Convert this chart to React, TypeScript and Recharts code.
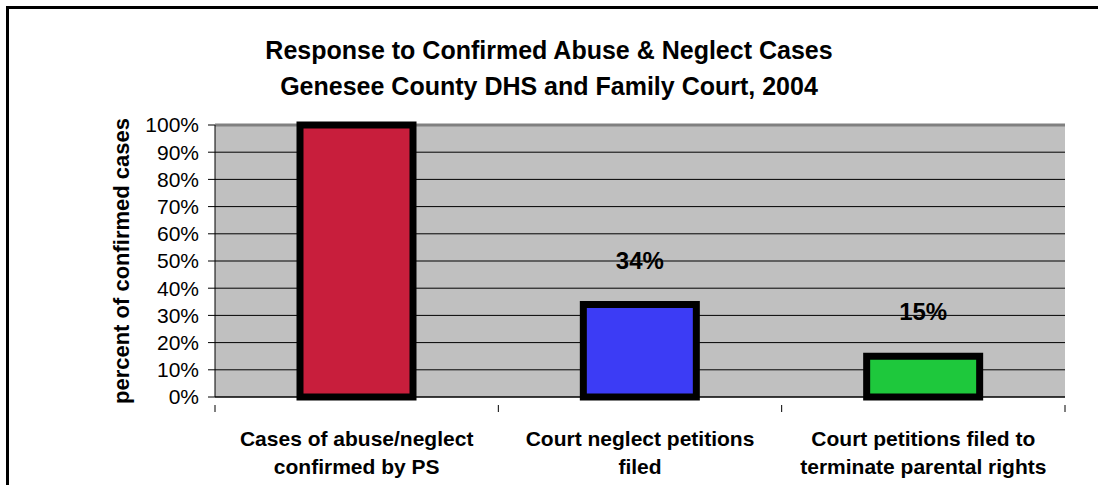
import { BarChart, Bar, XAxis, YAxis, CartesianGrid, Cell, LabelList } from "recharts";

const categoryLines = [
  ["Cases of abuse/neglect", "confirmed by PS"],
  ["Court neglect petitions", "filed"],
  ["Court petitions filed to", "terminate parental rights"],
];
const values = [100, 34, 15];
const barColors = ["#C81E3C", "#3C3CF5", "#1EC83C"];
const yTicks = [0, 10, 20, 30, 40, 50, 60, 70, 80, 90, 100];
const innerGrid = [0, 10, 20, 30, 40, 50, 60, 70, 80, 90];
const titleLines = ["Response to Confirmed Abuse & Neglect Cases", "Genesee County DHS and Family Court, 2004"];

const W = 1098;
const H = 485;
const margin = { top: 125, right: 33, bottom: 0, left: 0 };
const yAxisWidth = 215;
const plotWidth = W - margin.left - margin.right - yAxisWidth;
const band = plotWidth / values.length;
const font = "'Liberation Sans', Arial, sans-serif";

const rows = values.map((v, i) => ({ name: String(i), value: v }));

function CatTick(props: any) {
  const { x, y, payload, index } = props;
  const lines = categoryLines[Number(payload.value)];
  const half = band / 2;
  return (
    <g>
      <line x1={x - half} x2={x - half} y1={y} y2={y + 7} stroke="#000" />
      {index === values.length - 1 && (
        <line x1={x + half} x2={x + half} y1={y} y2={y + 7} stroke="#000" />
      )}
      {lines.map((l, i) => (
        <text key={i} x={x} y={y + 41 + i * 28} textAnchor="middle" fontFamily={font}
          fontWeight="bold" fontSize={21} fill="#000">{l}</text>
      ))}
    </g>
  );
}

function ValueLabel(props: any) {
  const { x, y, width, value } = props;
  if (value >= 100) return null; // the full bar's label is not shown in the original
  return (
    <text x={x + width / 2} y={y - 36} textAnchor="middle" fontFamily={font}
      fontWeight="bold" fontSize={24} fill="#000">{value}%</text>
  );
}

export default function App() {
  return (
    <div style={{ position: "absolute", left: 0, top: 0, width: W, height: H, overflow: "hidden", background: "#fff" }}>
      <div style={{ position: "absolute", left: 6, top: 6, width: W + 20, height: H + 20, border: "3px solid #000" }} />
      <div style={{ position: "absolute", left: 0, top: 32, width: W, textAlign: "center",
        fontFamily: font, fontWeight: "bold", fontSize: 25, lineHeight: "36px", color: "#000" }}>
        {titleLines.map((t) => <div key={t}>{t}</div>)}
      </div>
      <div style={{ position: "absolute", left: 0, top: 0 }}>
        <BarChart width={W} height={H} data={rows} margin={margin} barCategoryGap={0}>
          <CartesianGrid vertical={false} stroke="#000" fill="#C0C0C0" horizontalValues={innerGrid} />
          <CartesianGrid vertical={false} stroke="#808080" strokeWidth={3} horizontalValues={[100]} />
          <XAxis dataKey="name" height={88} axisLine={{ stroke: "#000" }} tickLine={false} tick={<CatTick />} interval={0} />
          <YAxis domain={[0, 100]} ticks={yTicks} width={yAxisWidth} interval={0}
            tickFormatter={(v) => `${v}%`} axisLine={{ stroke: "#000" }} tickLine={{ stroke: "#000" }}
            tickSize={7} tickMargin={9}
            tick={{ fontFamily: font, fontSize: 21, fill: "#000" }}
            label={{ value: "percent of confirmed cases", angle: -90, position: "insideLeft", offset: 121,
              style: { fontFamily: font, fontWeight: "bold", fontSize: 22, fill: "#000", textAnchor: "middle" } }} />
          <YAxis yAxisId="r" orientation="right" width={0} tick={false} tickLine={false}
            axisLine={{ stroke: "#808080", strokeWidth: 3 }} />
          <Bar dataKey="value" barSize={113} stroke="#000" strokeWidth={7} isAnimationActive={false}>
            {rows.map((r, i) => <Cell key={r.name} fill={barColors[i]} />)}
            <LabelList dataKey="value" content={<ValueLabel />} />
          </Bar>
        </BarChart>
      </div>
    </div>
  );
}
